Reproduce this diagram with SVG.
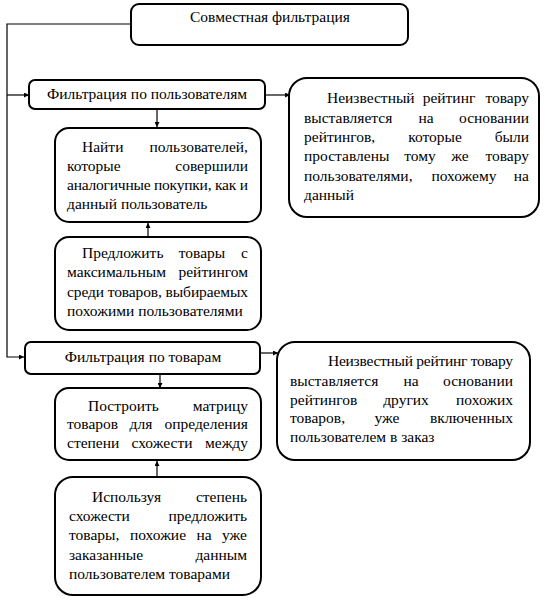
<svg xmlns="http://www.w3.org/2000/svg" width="547" height="601" viewBox="0 0 547 601">
<defs>
<marker id="ah" viewBox="0 0 10 10" refX="10" refY="5" markerWidth="5" markerHeight="5" orient="auto" markerUnits="userSpaceOnUse">
<path d="M0,0 L10,5 L0,10 z" fill="#000"/>
</marker>
<style>
.box{fill:#fff;stroke:#000;stroke-width:2}
text{font-family:"Liberation Serif","Times New Roman","DejaVu Serif",serif;font-size:15.5px;fill:#000}
.m{text-anchor:middle}
.e{text-anchor:end}
.c{fill:none;stroke:#000;stroke-width:1.2}
</style>
</defs>
<rect width="547" height="601" fill="#fff"/>
<g id="connectors">
<polyline class="c" points="131,24 7,24 7,357 24,357" marker-end="url(#ah)"/>
<line class="c" x1="7" y1="95" x2="29" y2="95" marker-end="url(#ah)"/>
<line class="c" x1="265" y1="95" x2="290" y2="95" marker-end="url(#ah)"/>
<line class="c" x1="157" y1="110" x2="157" y2="127" marker-end="url(#ah)"/>
<line class="c" x1="148" y1="237" x2="148" y2="223" marker-end="url(#ah)"/>
<line class="c" x1="260" y1="353" x2="278" y2="353" marker-end="url(#ah)"/>
<line class="c" x1="160" y1="375" x2="160" y2="388" marker-end="url(#ah)"/>
<line class="c" x1="157" y1="477" x2="157" y2="461" marker-end="url(#ah)"/>
</g>
<g id="n-joint">
<rect class="box" x="131" y="4" width="277" height="41" rx="8"/>
<text x="190" y="22">Совместная фильтрация</text>
</g>
<g id="n-users">
<rect class="box" x="29" y="80" width="236" height="29" rx="6"/>
<text class="m" x="147" y="99">Фильтрация по пользователям</text>
</g>
<g id="n-users-desc">
<rect class="box" x="289" y="78" width="250" height="139" rx="18"/>
<text x="327" y="103">Неизвестный</text><text class="m" x="449" y="103">рейтинг</text><text class="e" x="529" y="103">товару</text>
<text x="304" y="123">выставляется</text><text class="m" x="426" y="123">на</text><text class="e" x="529" y="123">основании</text>
<text x="304" y="142">рейтингов,</text><text class="m" x="435" y="142">которые</text><text class="e" x="529" y="142">были</text>
<text x="304" y="161">проставлены</text><text class="m" x="420" y="161">тому</text><text class="m" x="460" y="161">же</text><text class="e" x="529" y="161">товару</text>
<text x="304" y="181">пользователями,</text><text class="m" x="464" y="181">похожему</text><text class="e" x="529" y="181">на</text>
<text x="304" y="200">данный</text>
</g>
<g id="n-find">
<rect class="box" x="55" y="128" width="206" height="94" rx="14"/>
<text x="82" y="152">Найти</text><text class="e" x="248" y="152">пользователей,</text>
<text x="67" y="171">которые</text><text class="e" x="248" y="171">совершили</text>
<text x="67" y="190" textLength="181" lengthAdjust="spacing">аналогичные покупки, как и</text>
<text x="67" y="209">данный пользователь</text>
</g>
<g id="n-offer">
<rect class="box" x="55" y="237" width="206" height="93" rx="14"/>
<text x="82" y="258">Предложить</text><text class="m" x="202" y="258">товары</text><text class="e" x="248" y="258">с</text>
<text x="67" y="277">максимальным</text><text class="e" x="248" y="277">рейтингом</text>
<text x="67" y="297" textLength="181" lengthAdjust="spacing">среди товаров, выбираемых</text>
<text x="67" y="316">похожими пользователями</text>
</g>
<g id="n-items">
<rect class="box" x="25" y="342" width="235" height="32" rx="6"/>
<text class="m" x="143" y="362">Фильтрация по товарам</text>
</g>
<g id="n-items-desc">
<rect class="box" x="277" y="342" width="253" height="118" rx="18"/>
<text x="328" y="366" textLength="185" lengthAdjust="spacing">Неизвестный рейтинг товару</text>
<text x="290" y="386">выставляется</text><text class="m" x="411" y="386">на</text><text class="e" x="513" y="386">основании</text>
<text x="290" y="405">рейтингов</text><text class="m" x="406" y="405">других</text><text class="e" x="513" y="405">похожих</text>
<text x="290" y="423">товаров,</text><text class="m" x="387" y="423">уже</text><text class="e" x="513" y="423">включенных</text>
<text x="290" y="442">пользователем в заказ</text>
</g>
<g id="n-matrix">
<rect class="box" x="55" y="388" width="206" height="72" rx="14"/>
<text x="88" y="411">Построить</text><text class="e" x="248" y="411">матрицу</text>
<text x="67" y="429">товаров</text><text class="m" x="141" y="429">для</text><text class="e" x="248" y="429">определения</text>
<text x="67" y="448">степени</text><text class="m" x="162" y="448">схожести</text><text class="e" x="248" y="448">между</text>
</g>
<g id="n-similar">
<rect class="box" x="55" y="477" width="206" height="118" rx="18"/>
<text x="92" y="502">Используя</text><text class="e" x="247" y="502">степень</text>
<text x="69" y="521">схожести</text><text class="e" x="247" y="521">предложить</text>
<text x="69" y="540">товары,</text><text class="m" x="158" y="540">похожие</text><text class="m" x="204" y="540">на</text><text class="e" x="247" y="540">уже</text>
<text x="69" y="560">заказанные</text><text class="e" x="247" y="560">данным</text>
<text x="69" y="579">пользователем товарами</text>
</g>
</svg>
